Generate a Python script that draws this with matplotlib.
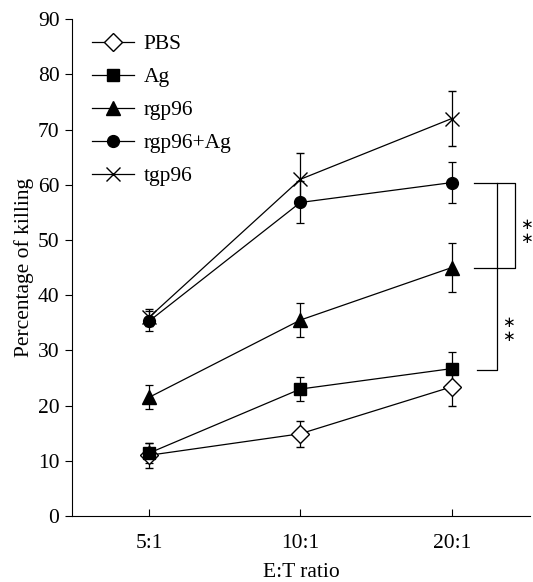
import matplotlib
matplotlib.use("Agg")
import matplotlib.pyplot as plt
from matplotlib.lines import Line2D

categories = ["5:1", "10:1", "20:1"]
series = ["PBS", "Ag", "rgp96", "rgp96+Ag", "tgp96"]
pbs = [11.0, 14.9, 23.4]
pbs_err = [2.3, 2.4, 3.4]
ag = [11.4, 23.0, 26.7]
ag_err = [1.8, 2.1, 3.0]
rgp96 = [21.5, 35.5, 45.0]
rgp96_err = [2.2, 3.0, 4.5]
rgp96_ag = [35.3, 56.8, 60.4]
rgp96_ag_err = [1.8, 3.8, 3.7]
tgp96 = [36.0, 61.0, 72.0]
tgp96_err = [1.5, 4.7, 5.0]
yticks = [0, 10, 20, 30, 40, 50, 60, 70, 80, 90]

plt.rcParams['font.family'] = ['Liberation Serif', 'DejaVu Serif']
fig = plt.figure(figsize=(5.33, 5.82), dpi=100)
ax = fig.add_axes([0.135, 0.1134, 0.86, 0.8536])

FS = 15.5
x = list(range(len(categories)))
styles = [
    dict(marker='D', ms=9.5, mfc='white', mec='black', mew=1.0),
    dict(marker='s', ms=9, mfc='black', mec='black'),
    dict(marker='^', ms=10, mfc='black', mec='black'),
    dict(marker='o', ms=8.5, mfc='black', mec='black'),
    dict(marker='x', ms=10, mfc='black', mec='black', mew=1.0),
]
data = [(pbs, pbs_err), (ag, ag_err), (rgp96, rgp96_err),
        (rgp96_ag, rgp96_ag_err), (tgp96, tgp96_err)]
handles = []
for name, (vals, errs), st in zip(series, data, styles):
    ax.errorbar(x, vals, yerr=errs, color='black', lw=0.9, elinewidth=0.9,
                capsize=3, capthick=0.9, **st)
    handles.append(Line2D([], [], color='black', lw=0.9, label=name, **st))

ax.set_xlim(-0.51, 2.52)
ax.set_ylim(0, 90)
ax.set_yticks(yticks)
ax.set_xticks(x)
ax.set_xticklabels(categories)
ax.spines['top'].set_visible(False)
ax.spines['right'].set_visible(False)
ax.tick_params(axis='y', direction='out', length=5, labelsize=FS, width=0.8, pad=4)
ax.tick_params(axis='x', direction='in', length=5, labelsize=FS, width=0.8, pad=13)
ax.set_ylabel("Percentage of killing", fontsize=FS, labelpad=3)
ax.set_xlabel("E:T ratio", fontsize=FS, labelpad=7)

ax.legend(handles=handles, loc='upper left', frameon=False, fontsize=FS,
          handlelength=1.95, handletextpad=0.45, labelspacing=0.6,
          bbox_to_anchor=(0.044, 0.97), borderaxespad=0, borderpad=0)

# significance brackets
kw = dict(color='black', lw=0.9, clip_on=False)
ax.plot([2.15, 2.42, 2.42, 2.15], [60.3, 60.3, 44.9, 44.9], **kw)
ax.plot([2.30, 2.30, 2.17], [60.3, 26.5, 26.5], **kw)
skw = dict(ha='center', va='center', fontsize=11, family='DejaVu Sans',
           linespacing=0.95, clip_on=False)
ax.text(2.495, 51.5, "\u2217\n\u2217", **skw)
ax.text(2.375, 33.8, "\u2217\n\u2217", **skw)

fig.savefig("out.png", dpi=100)
